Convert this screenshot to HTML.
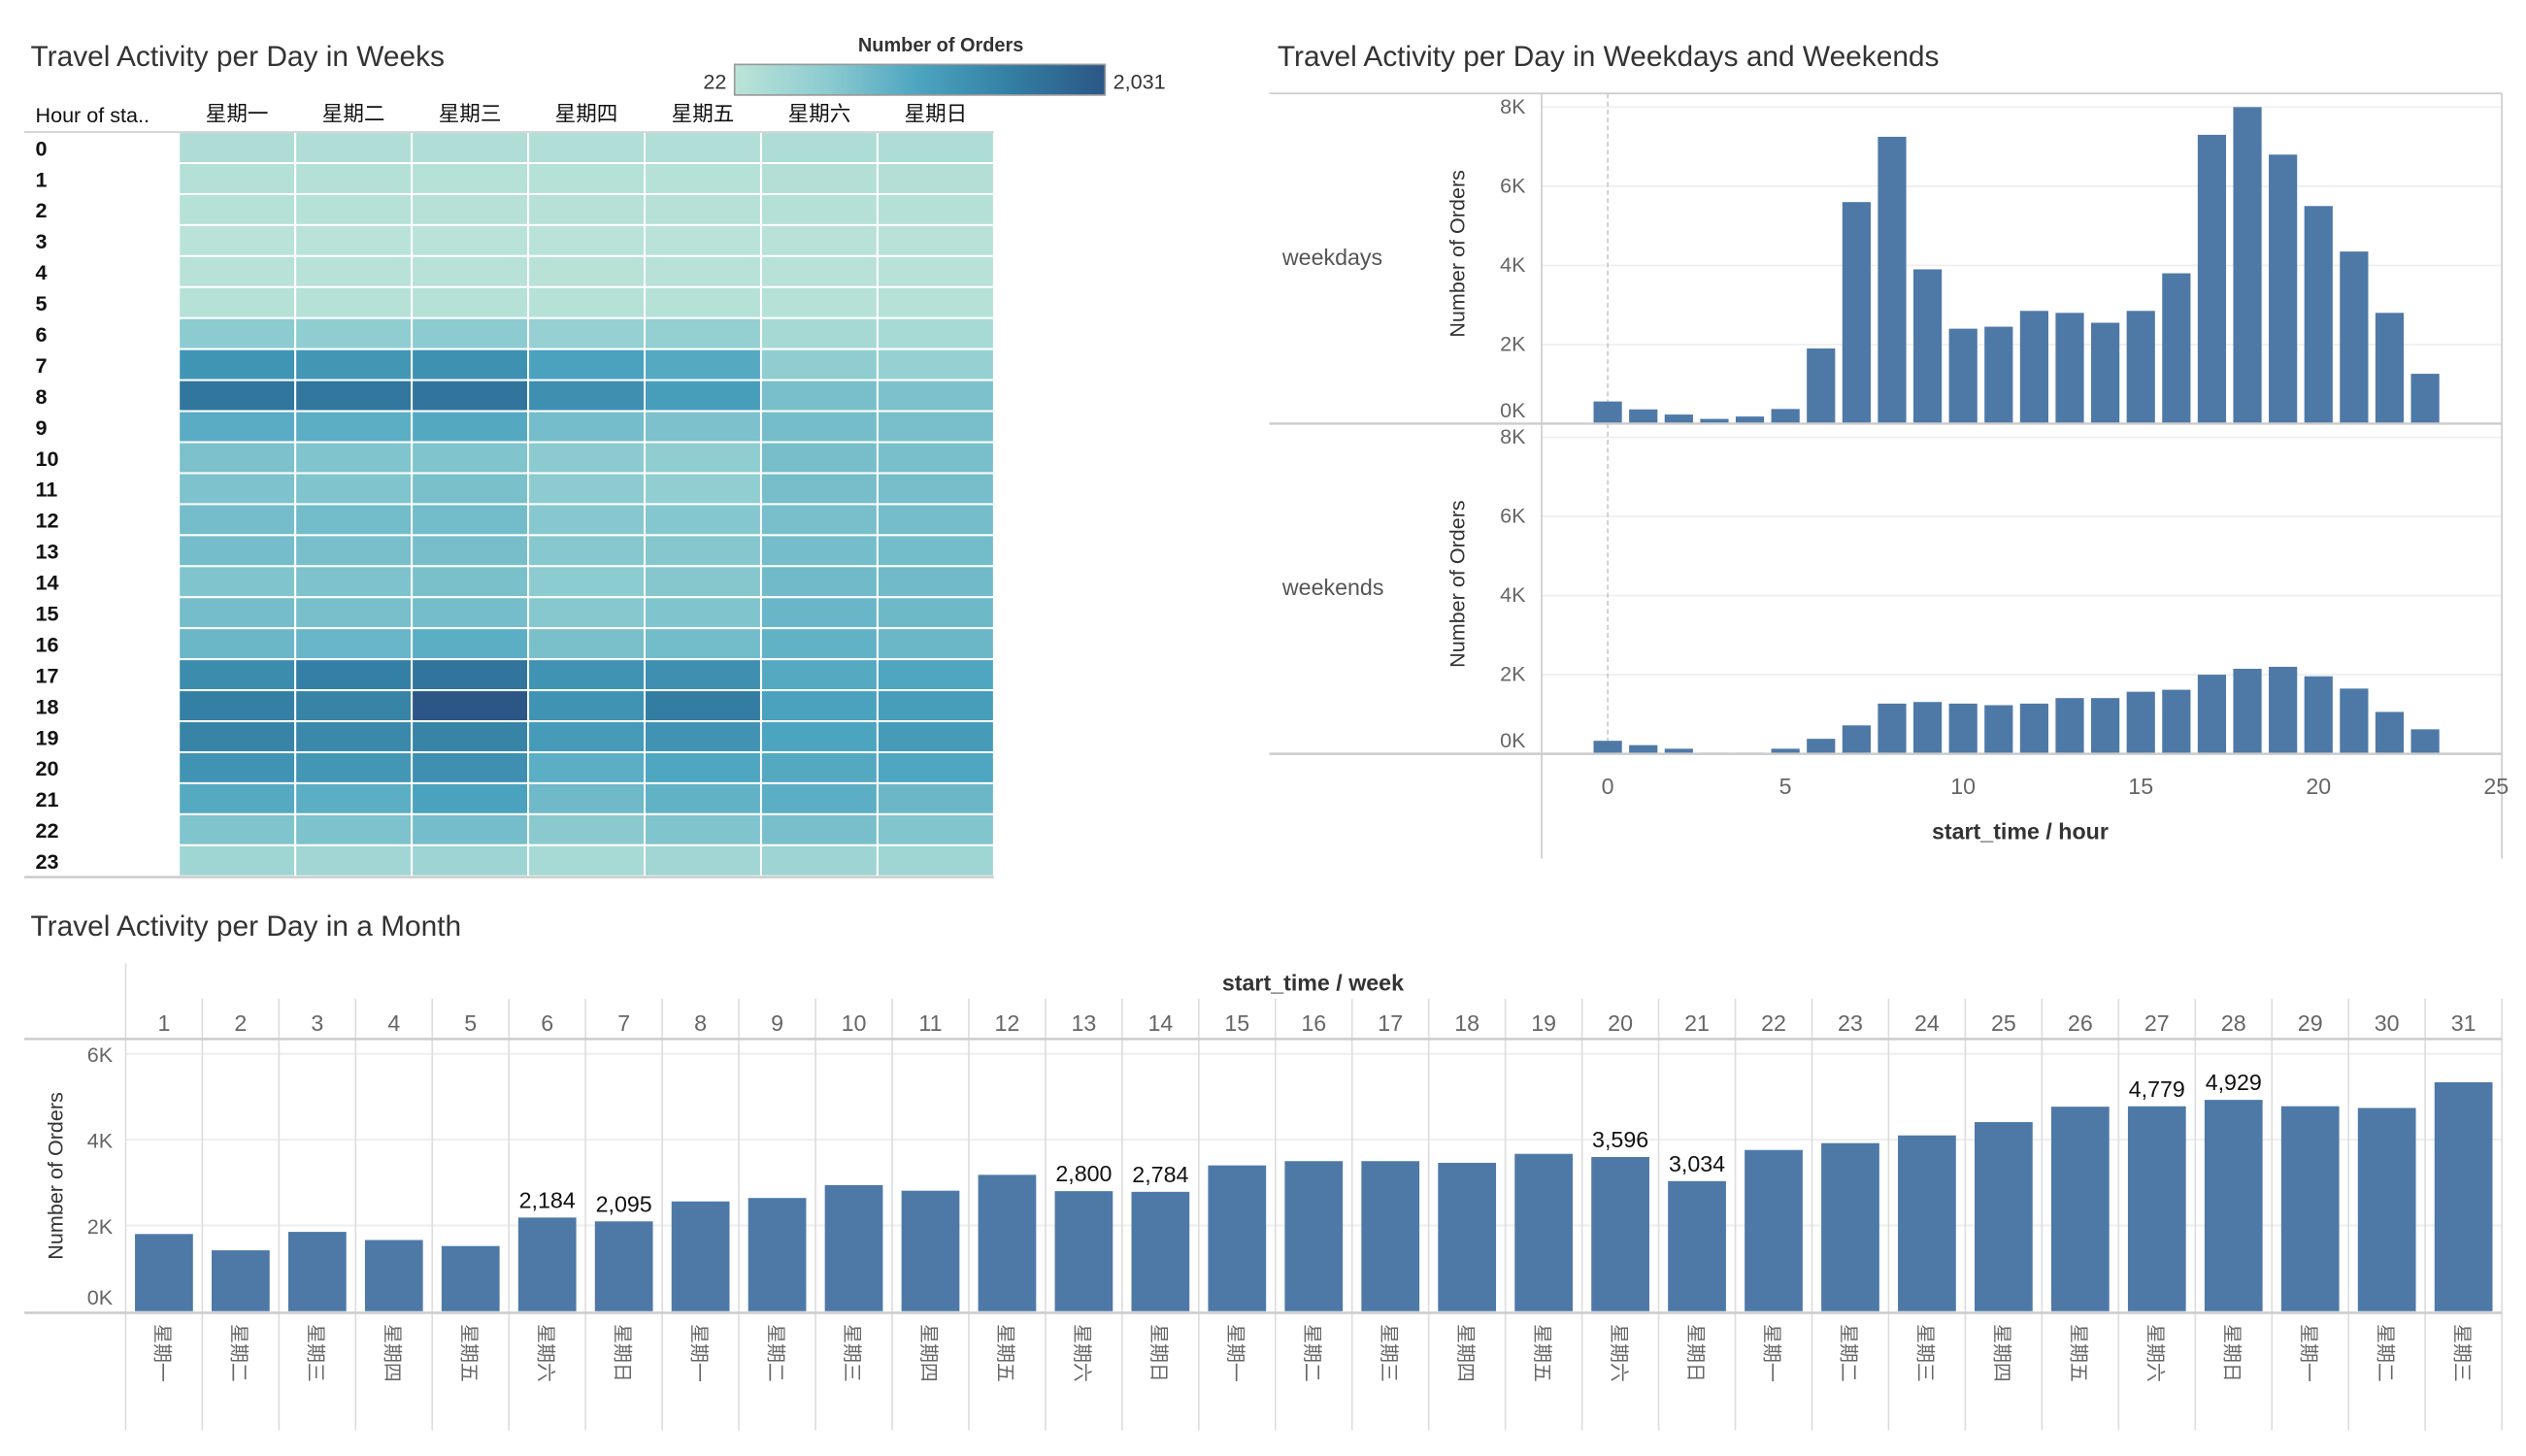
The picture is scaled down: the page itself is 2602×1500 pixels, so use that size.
<!DOCTYPE html>
<html><head><meta charset="utf-8"><style>
html,body{margin:0;padding:0;background:#fff;}
svg{display:block;font-family:"Liberation Sans","Noto Sans CJK SC",sans-serif;}
</style></head><body>
<svg id="root" width="2602" height="1500" viewBox="0 0 1568 903.9" preserveAspectRatio="none" xmlns="http://www.w3.org/2000/svg">
<g id="heat"></g>
<g id="hourly"></g>
<g id="monthly"></g>
</svg>
<script>
const dayNames = ["星期一","星期二","星期三","星期四","星期五","星期六","星期日"];
const hours = [0,1,2,3,4,5,6,7,8,9,10,11,12,13,14,15,16,17,18,19,20,21,22,23];
const heatValues = [
[160,150,150,140,140,170,170],
[100,100,90,90,90,120,120],
[80,80,75,75,75,100,100],
[50,50,50,50,50,60,60],
[60,60,60,55,60,60,60],
[90,90,90,85,85,80,80],
[520,480,520,420,440,250,230],
[1230,1200,1280,1050,950,480,420],
[1630,1620,1650,1300,1100,680,650],
[920,900,960,700,650,700,680],
[650,620,620,530,480,690,680],
[640,620,660,520,470,690,690],
[700,720,720,560,580,680,700],
[700,680,690,560,570,700,720],
[620,640,660,520,570,740,740],
[700,680,700,560,620,800,760],
[780,800,900,660,720,850,780],
[1350,1500,1650,1250,1300,950,1000],
[1500,1450,2031,1250,1550,1050,1100],
[1450,1380,1450,1150,1250,1020,1150],
[1250,1200,1300,900,1000,960,1000],
[950,900,1050,750,850,900,780],
[620,640,700,540,620,680,600],
[330,300,340,240,300,340,330]
];
const heatMin = 22, heatMax = 2031;
const weekdayTotals = [560,360,230,120,180,370,1900,5600,7250,3900,2400,2450,2850,2800,2550,2850,3800,7300,8000,6800,5500,4350,2800,1260];
const weekendTotals = [330,220,130,30,30,130,380,720,1270,1310,1270,1230,1270,1410,1410,1570,1620,2000,2150,2200,1960,1650,1060,620];
const hourTicks = [0,5,10,15,20,25];
const yTicksHour = [0,2000,4000,6000,8000];
const yTickLabelsHour = ["0K","2K","4K","6K","8K"];
const monthDays = [1,2,3,4,5,6,7,8,9,10,11,12,13,14,15,16,17,18,19,20,21,22,23,24,25,26,27,28,29,30,31];
const monthValues = [1800,1420,1850,1660,1520,2184,2095,2560,2640,2940,2810,3180,2800,2784,3400,3500,3500,3460,3670,3596,3034,3760,3920,4100,4410,4770,4779,4929,4780,4740,5340];
const monthWeekday = ["星期一","星期二","星期三","星期四","星期五","星期六","星期日","星期一","星期二","星期三","星期四","星期五","星期六","星期日","星期一","星期二","星期三","星期四","星期五","星期六","星期日","星期一","星期二","星期三","星期四","星期五","星期六","星期日","星期一","星期二","星期三"];
const monthLabelled = [6,7,13,14,20,21,27,28];
const yTicksMonth = [0,2000,4000,6000];
const yTickLabelsMonth = ["0K","2K","4K","6K"];

const NS="http://www.w3.org/2000/svg";
function mk(parent,tag,attrs,text){const e=document.createElementNS(NS,tag);for(const k in attrs)e.setAttribute(k,attrs[k]);if(text!==undefined)e.textContent=text;parent.appendChild(e);return e;}
const stops=[[0,[188,228,216]],[0.25,[140,203,208]],[0.5,[75,164,191]],[0.75,[51,126,163]],[1,[43,86,134]]];
function colorScale(v){let t=(v-heatMin)/(heatMax-heatMin);t=Math.max(0,Math.min(1,t));for(let i=1;i<stops.length;i++){if(t<=stops[i][0]){const a=stops[i-1],b=stops[i];const f=(t-a[0])/(b[0]-a[0]);const c=a[1].map((x,j)=>Math.round(x+(b[1][j]-x)*f));return `rgb(${c[0]},${c[1]},${c[2]})`;}}return "rgb(43,86,134)";}

// ---------- Heatmap ----------
(function(){
const g=document.getElementById('heat');
let e=mk(g,'text',{x:19,y:41,'font-size':18,fill:'#333'},"Travel Activity per Day in  Weeks");

e=mk(g,'text',{x:584,y:32,'font-size':12,fill:'#333','text-anchor':'middle','font-weight':'bold'},"Number of Orders");

const defs=mk(g,'defs',{});const lg=mk(defs,'linearGradient',{id:'lg',x1:0,x2:1,y1:0,y2:0});
stops.forEach(s=>mk(lg,'stop',{offset:s[0],'stop-color':`rgb(${s[1].join(',')})`}));
e=mk(g,'rect',{x:456,y:40,width:230,height:19,fill:'url(#lg)',stroke:'#999','stroke-width':1});

e=mk(g,'text',{x:451,y:55,'font-size':13,fill:'#333','text-anchor':'end'},String(heatMin));

e=mk(g,'text',{x:691,y:55,'font-size':13,fill:'#333'},heatMax.toLocaleString('en-US'));

const x0=111,x1=617,y0=82,y1=544;const cw=(x1-x0)/dayNames.length,rh=(y1-y0)/hours.length;
e=mk(g,'text',{x:22,y:76,'font-size':13,fill:'#111'},"Hour of sta..");

dayNames.forEach((d,i)=>{const t=mk(g,'text',{x:x0+cw*(i+0.5),y:75,'font-size':13,fill:'#111','text-anchor':'middle'},d);
});
hours.forEach((h,r)=>{const t=mk(g,'text',{x:22,y:y0+rh*(r+0.5)+5,'font-size':13,fill:'#111','font-weight':'bold'},String(h));

heatValues[r].forEach((v,c)=>{const rc=mk(g,'rect',{x:x0+cw*c,y:y0+rh*r,width:cw,height:rh,fill:colorScale(v),stroke:'#fff','stroke-width':1.2});
});});
mk(g,'line',{x1:15,x2:617,y1:y0,y2:y0,stroke:'#ccc','stroke-width':1});
mk(g,'line',{x1:15,x2:617,y1:y1+0.5,y2:y1+0.5,stroke:'#ccc','stroke-width':1.5});
})();

// ---------- Hourly chart ----------
(function(){
const g=document.getElementById('hourly');
let e=mk(g,'text',{x:793,y:41,'font-size':18,fill:'#333'},"Travel Activity per Day in Weekdays and Weekends");

const L=957,R=1553;
const xs=v=>998+v*22.06;
const panels=[{top:58,base:263,name:'weekdays',data:weekdayTotals},{top:263,base:468,name:'weekends',data:weekendTotals}];
panels.forEach((p,pi)=>{
 const ys=v=>p.base-(v/8000)*(p.base-(p.top+8.5));
 yTicksHour.forEach((t,i)=>{if(t>0)mk(g,'line',{x1:L,x2:R,y1:ys(t),y2:ys(t),stroke:'#eee','stroke-width':1});
  const tl=mk(g,'text',{x:947,y:i===0?ys(t)-4:ys(t)+4,'font-size':13,fill:'#666','text-anchor':'end'},yTickLabelsHour[i]);
  });
 const lab=mk(g,'text',{x:796,y:(p.top+p.base)/2+4,'font-size':14,fill:'#555'},p.name);
 
 const cy=(p.top+p.base)/2-3;
 const yt=mk(g,'text',{x:0,y:0,'font-size':13,fill:'#333','text-anchor':'middle',transform:`translate(909,${cy}) rotate(-90)`},"Number of Orders");
 
 mk(g,'line',{x1:xs(0),x2:xs(0),y1:p.top,y2:p.base,stroke:'#bbb','stroke-width':0.8,'stroke-dasharray':'3,2'});
 p.data.forEach((v,h)=>{const b=mk(g,'rect',{x:xs(h)-8.8,y:ys(v),width:17.6,height:p.base-ys(v),fill:'#4e79a7'});
  });
});
mk(g,'line',{x1:788,x2:R,y1:58,y2:58,stroke:'#ccc','stroke-width':1});
mk(g,'line',{x1:788,x2:R,y1:263,y2:263,stroke:'#ccc','stroke-width':1.5});
mk(g,'line',{x1:788,x2:R,y1:468,y2:468,stroke:'#ccc','stroke-width':1.5});
mk(g,'line',{x1:L,x2:L,y1:58,y2:533,stroke:'#ccc','stroke-width':1});
mk(g,'line',{x1:R,x2:R,y1:58,y2:533,stroke:'#ccc','stroke-width':1});
hourTicks.forEach(t=>{const tl=mk(g,'text',{x:xs(t),y:493,'font-size':14,fill:'#666','text-anchor':'middle'},String(t));
 });
e=mk(g,'text',{x:1254,y:521,'font-size':14,fill:'#333','text-anchor':'middle','font-weight':'bold'},"start_time / hour");

})();

// ---------- Monthly chart ----------
(function(){
const g=document.getElementById('monthly');
let e=mk(g,'text',{x:19,y:581,'font-size':18,fill:'#333'},"Travel Activity per Day in a Month");

const L=78,R=1553,cw=(R-L)/monthDays.length;const base=814,top6=654.3;
const ys=v=>base-(v/6000)*(base-top6);
e=mk(g,'text',{x:815,y:615,'font-size':14,fill:'#333','text-anchor':'middle','font-weight':'bold'},"start_time / week");

yTicksMonth.forEach((t,i)=>{if(t>0)mk(g,'line',{x1:L,x2:R,y1:ys(t),y2:ys(t),stroke:'#eee','stroke-width':1.2});
 const tl=mk(g,'text',{x:70,y:i===0?ys(t)-4:ys(t)+5,'font-size':13,fill:'#666','text-anchor':'end'},yTickLabelsMonth[i]);
 });
const yt=mk(g,'text',{x:0,y:0,'font-size':13,fill:'#333','text-anchor':'middle',transform:`translate(39,730) rotate(-90)`},"Number of Orders");

monthDays.forEach((d,i)=>{const cx=L+cw*(i+0.5);
 mk(g,'line',{x1:L+cw*i,x2:L+cw*i,y1:i===0?598:620,y2:888,stroke:'#ddd','stroke-width':1});
 const dl=mk(g,'text',{x:cx,y:640,'font-size':14,fill:'#666','text-anchor':'middle'},String(d));
 
 const v=monthValues[i];
 const b=mk(g,'rect',{x:cx-18,y:ys(v),width:36,height:base-ys(v),fill:'#4e79a7'});
 
 if(monthLabelled.indexOf(d)>=0){const vl=mk(g,'text',{x:cx,y:ys(v)-6,'font-size':14,fill:'#111','text-anchor':'middle'},v.toLocaleString('en-US'));
  }
 const wl=mk(g,'text',{x:0,y:0,'font-size':12,fill:'#666',transform:`translate(${cx-5},822) rotate(90)`},monthWeekday[i]);
 
});
mk(g,'line',{x1:R,x2:R,y1:620,y2:888,stroke:'#ddd','stroke-width':1});
mk(g,'line',{x1:15,x2:R,y1:645,y2:645,stroke:'#ccc','stroke-width':1.5});
mk(g,'line',{x1:15,x2:R,y1:815,y2:815,stroke:'#ccc','stroke-width':1.5});
})();
</script>
</body></html>
